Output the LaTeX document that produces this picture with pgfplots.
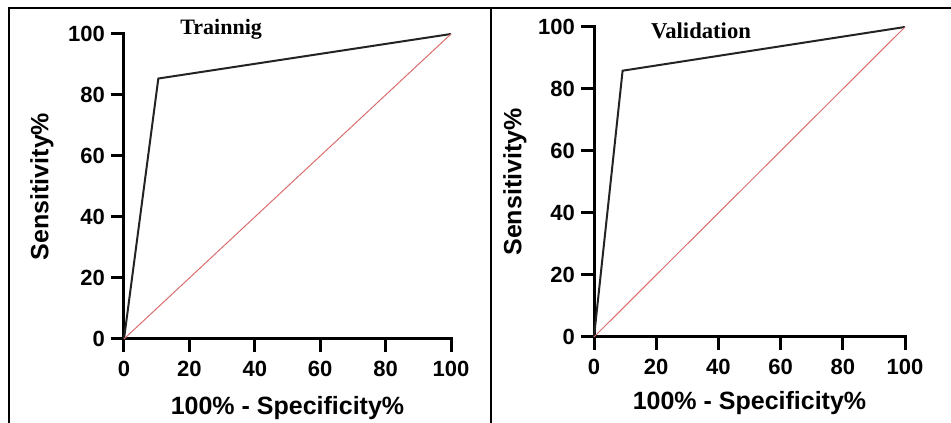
\documentclass[border=0pt]{standalone}
\usepackage{fontspec}
\setmainfont{Liberation Sans}
\newfontfamily\titlefont{Liberation Serif}
\usepackage{pgfplots}
\pgfplotsset{compat=1.18}
\definecolor{roccurve}{RGB}{35,35,35}
\definecolor{refline}{RGB}{218,110,110}
\pgfplotsset{
  rocaxis/.style={
    scale only axis,
    axis lines=left,
    axis line style={-, line width=2.25pt, line cap=rect},
    xmin=0, xmax=100, ymin=0, ymax=100,
    enlargelimits=false,
    xtick={0,20,40,60,80,100},
    ytick={0,20,40,60,80,100},
    tick align=outside,
    major tick length=9.75pt,
    tick style={line width=2.25pt, black},
    /pgf/number format/assume math mode=true,
    ticklabel style={font=\bfseries\fontsize{16.5}{16.5}\selectfont},
    xticklabel style={yshift=-3.5pt},
    yticklabel style={xshift=-1pt},
    label style={font=\bfseries\fontsize{18.75}{18.75}\selectfont},
    xlabel={100\% - Specificity\%},
    ylabel={Sensitivity\%},
    clip=false,
  }
}
\begin{document}
\begin{tikzpicture}
\useasboundingbox (0pt,0pt) rectangle (713.25pt,317.25pt);
% panel frames
\draw[line width=1pt] (6.75pt,0pt) -- (6.75pt,311.25pt) -- (713.25pt,311.25pt);
\draw[line width=1pt] (368.25pt,0pt) -- (368.25pt,311.25pt);
% Training
\begin{axis}[rocaxis,
  at={(93pt,63pt)}, anchor=south west,
  width=245.25pt, height=228.75pt,
  xlabel style={at={(axis description cs:0.5,-0.246)}, anchor=base},
  ylabel style={at={(axis description cs:-0.251,0.5)}, anchor=center, rotate=0},
]
\addplot[roccurve, line width=1.5pt] coordinates {(0,0) (10.5,85.4) (100,100)};
\addplot[refline, line width=0.75pt] coordinates {(0,0) (100,100)};
\node[font=\titlefont\bfseries\fontsize{16.5}{16.5}\selectfont] at (axis cs:29.7,101.6) {Trainnig};
\end{axis}
% Validation
\begin{axis}[rocaxis,
  at={(445.5pt,64.5pt)}, anchor=south west,
  width=233.25pt, height=232.5pt,
  xlabel style={at={(axis description cs:0.5,-0.235)}, anchor=base},
  ylabel style={at={(axis description cs:-0.254,0.5)}, anchor=center, rotate=0},
]
\addplot[roccurve, line width=1.5pt] coordinates {(0,0) (9.2,85.9) (100,100)};
\addplot[refline, line width=0.75pt] coordinates {(0,0) (100,100)};
\node[font=\titlefont\bfseries\fontsize{17}{17}\selectfont] at (axis cs:34.4,98.7) {Validation};
\end{axis}
\end{tikzpicture}
\end{document}
